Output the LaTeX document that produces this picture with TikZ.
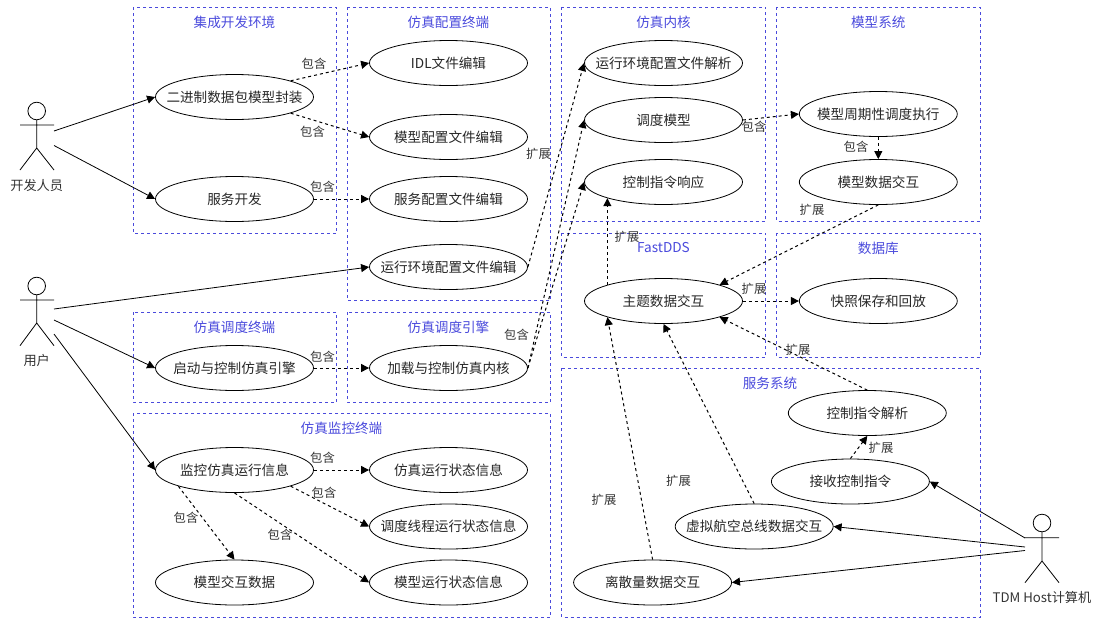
\documentclass[tikz,border=0pt]{standalone}
\usepackage{fontspec}
\setmainfont{Noto Sans CJK SC}
\usetikzlibrary{shapes.geometric,arrows.meta}

\definecolor{sysblue}{HTML}{4A4ADC}
\tikzset{
  usecase/.style={draw, thick, ellipse, minimum width=158pt, minimum height=45pt, inner xsep=-20pt, inner ysep=0pt, text=black!85, font=\fontsize{13.6}{15}\selectfont},
  sysbox/.style={draw=sysblue, line width=1pt, dash pattern=on 3pt off 3pt},
  systitle/.style={text=sysblue, font=\fontsize{13.6}{15}\selectfont},
  rel/.style={text=black!80, font=\fontsize{12.3}{14}\selectfont},
  assoc/.style={thick, -{Triangle[length=8pt,width=8pt]}},
  dep/.style={line width=1pt, dash pattern=on 3pt off 3pt, -{Triangle[length=8pt,width=8pt,sep=0pt]}},
  stick/.style={line width=0.8pt}
}

\begin{document}
\begin{tikzpicture}[x=1pt,y=-1pt]
\useasboundingbox (0,0) rectangle (1098,619);

% system boxes
\draw[sysbox] (133,7) rectangle (336.5,233);
\draw[sysbox] (347,7) rectangle (550.5,300);
\draw[sysbox] (561.5,7) rectangle (765.5,221);
\draw[sysbox] (776.5,7) rectangle (980,221);
\draw[sysbox] (561.5,233) rectangle (765.5,357);
\draw[sysbox] (776.5,233) rectangle (980,357);
\draw[sysbox] (561.5,368) rectangle (980,617);
\draw[sysbox] (133,312) rectangle (336.5,402);
\draw[sysbox] (347,312) rectangle (550.5,402);
\draw[sysbox] (133,413) rectangle (550.5,617);

% box titles
\node[systitle] (tIde) at (234.5,22) {集成开发环境};
\node[systitle] (tCfg) at (448.5,22) {仿真配置终端};
\node[systitle] (tKernel) at (663.5,22) {仿真内核};
\node[systitle] (tModel) at (878.3,22) {模型系统};
\node[systitle] (tDds) at (663.5,248) {FastDDS};
\node[systitle] (tDb) at (878.3,248) {数据库};
\node[systitle] (tSvc) at (770,383) {服务系统};
\node[systitle] (tSched) at (234.5,327) {仿真调度终端};
\node[systitle] (tEngine) at (448.5,327) {仿真调度引擎};
\node[systitle] (tMon) at (341.5,428) {仿真监控终端};

% use cases, left half
\node[usecase] (pack) at (234.5,97) {二进制数据包模型封装};
\node[usecase] (svcDev) at (234.5,199) {服务开发};
\node[usecase] (idlEdit) at (448.5,63) {IDL文件编辑};
\node[usecase] (modelEdit) at (448.5,137) {模型配置文件编辑};
\node[usecase] (svcEdit) at (448.5,199) {服务配置文件编辑};
\node[usecase] (envEdit) at (448.5,267) {运行环境配置文件编辑};
\node[usecase] (start) at (234.5,368) {启动与控制仿真引擎};
\node[usecase] (load) at (448.5,368) {加载与控制仿真内核};
\node[usecase] (monitor) at (234.5,470) {监控仿真运行信息};
\node[usecase] (simState) at (448.5,470) {仿真运行状态信息};
\node[usecase] (threadState) at (448.5,526.5) {调度线程运行状态信息};
\node[usecase] (modelState) at (448.5,582.5) {模型运行状态信息};
\node[usecase] (modelData) at (234.5,582.5) {模型交互数据};

% use cases, right half
\node[usecase] (envParse) at (663.5,63) {运行环境配置文件解析};
\node[usecase] (schedModel) at (663.5,120) {调度模型};
\node[usecase] (ctrlResp) at (663.5,182) {控制指令响应};
\node[usecase] (periodic) at (878.3,114) {模型周期性调度执行};
\node[usecase] (modelEx) at (878.3,182) {模型数据交互};
\node[usecase] (topic) at (663.5,301) {主题数据交互};
\node[usecase] (snapshot) at (878.3,301) {快照保存和回放};
\node[usecase] (ctrlParse) at (867.3,413) {控制指令解析};
\node[usecase] (ctrlRecv) at (850.4,481.5) {接收控制指令};
\node[usecase] (bus) at (754.2,526.5) {虚拟航空总线数据交互};
\node[usecase] (discrete) at (652.6,582.5) {离散量数据交互};

% actors
\draw[stick] (36.7,111) circle (8.8);
\draw[stick] (20,125) -- (54,125) (36.7,119.8) -- (36.7,148) (20,170) -- (36.7,148) -- (54,170);
\node[rel, font=\fontsize{13.2}{15}\selectfont] (devLabel) at (36.7,185) {开发人员};
\draw[stick] (36.7,286) circle (8.8);
\draw[stick] (20,300) -- (54,300) (36.7,294.8) -- (36.7,323) (20,345.7) -- (36.7,323) -- (54,345.7);
\node[rel, font=\fontsize{13.2}{15}\selectfont] (userLabel) at (36.7,360) {用户};
\draw[stick] (1042,523) circle (8.8);
\draw[stick] (1025,537.7) -- (1059,537.7) (1042,531.8) -- (1042,561) (1025,582.7) -- (1042,561) -- (1059,582.7);
\node[rel, font=\fontsize{13.2}{15}\selectfont] (tdmLabel) at (1042,597.7) {TDM Host计算机};

% actor ends
\coordinate (devA) at (54,131);
\coordinate (devB) at (54,145.5);
\coordinate (userA) at (54,309);
\coordinate (userB) at (54,320);
\coordinate (userC) at (54,334);
\coordinate (tdmA) at (1025,538);
\coordinate (tdmB) at (1025,547);
\coordinate (tdmC) at (1025,550.5);

% associations
\draw[assoc] (devA) -- (pack.west);
\draw[assoc] (devB) -- (svcDev.west);
\draw[assoc] (userA) -- (envEdit.west);
\draw[assoc] (userB) -- (start.west);
\draw[assoc] (userC) -- (monitor.west);
\draw[assoc] (tdmA) -- (ctrlRecv.east);
\draw[assoc] (tdmB) -- (bus.east);
\draw[assoc] (tdmC) -- (discrete.east);

% dependencies
\draw[dep] (pack.north east) -- (idlEdit.west);
\draw[dep] (pack.south east) -- (modelEdit.west);
\draw[dep] (svcDev.east) -- (svcEdit.west);
\draw[dep] (start.east) -- (load.west);
\draw[dep] (monitor.east) -- (simState.west);
\draw[dep] (monitor.south east) -- (threadState.west);
\draw[dep] (monitor.south) -- (modelState.west);
\draw[dep] (monitor.south west) -- (modelData.north);
\draw[dep] (envEdit.east) -- (envParse.west);
\draw[dep] (load.east) -- (schedModel.west);
\draw[dep] (load.east) -- (ctrlResp.west);
\draw[dep] (schedModel.east) -- (periodic.west);
\draw[dep] (periodic.south) -- (modelEx.north);
\draw[dep] (modelEx.south) -- (topic.north east);
\draw[dep] (topic.east) -- (snapshot.west);
\draw[dep] (topic.north west) -- (ctrlResp.south west);
\draw[dep] (ctrlParse.north) -- (topic.south east);
\draw[dep] (bus.north) -- (topic.south);
\draw[dep] (discrete.north) -- (topic.south west);
\draw[dep] (ctrlRecv.north) -- (ctrlParse.south);

% relation labels
\node[rel] (inc1) at (314,64) {包含};
\node[rel] (inc2) at (312.5,132) {包含};
\node[rel] (inc3) at (322.5,187) {包含};
\node[rel] (inc4) at (754,127) {包含};
\node[rel] (inc5) at (856,147) {包含};
\node[rel] (inc6) at (516.5,335) {包含};
\node[rel] (inc7) at (322.5,357) {包含};
\node[rel] (inc8) at (322.5,458) {包含};
\node[rel] (inc9) at (324,493) {包含};
\node[rel] (inc10) at (186,518) {包含};
\node[rel] (inc11) at (280,535) {包含};
\node[rel] (ext1) at (538.5,154) {扩展};
\node[rel] (ext2) at (812,210) {扩展};
\node[rel] (ext3) at (627,237) {扩展};
\node[rel] (ext4) at (754,289) {扩展};
\node[rel] (ext5) at (798,350) {扩展};
\node[rel] (ext6) at (881,448) {扩展};
\node[rel] (ext7) at (678.5,481) {扩展};
\node[rel] (ext8) at (604,500) {扩展};
\end{tikzpicture}
\end{document}
